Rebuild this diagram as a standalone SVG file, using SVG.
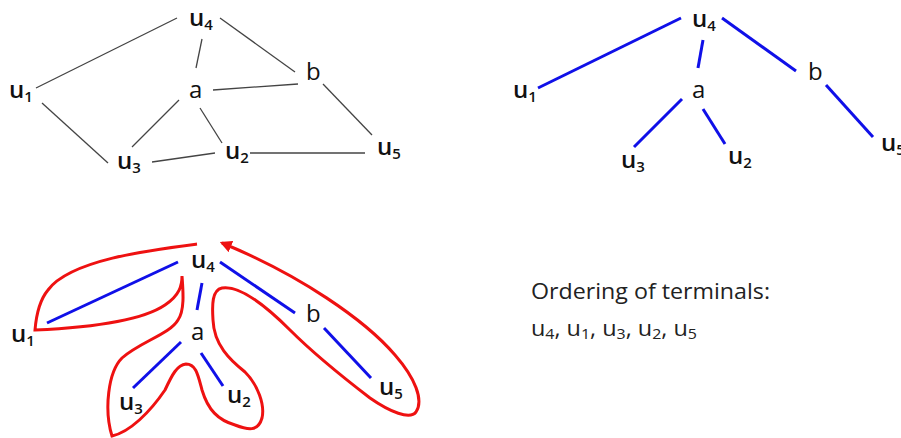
<svg xmlns="http://www.w3.org/2000/svg" width="901" height="438" viewBox="0 0 901 438">
<style>
.lbl{font-family:"Open Sans","Liberation Sans",sans-serif;font-size:24px;fill:#111}
.u{font-weight:600}
.sub{font-size:15px}
.g{stroke:#444;stroke-width:1.3;fill:none}
.bl{stroke:#1010e8;stroke-width:3;fill:none}
.red{stroke:#ee1111;stroke-width:3;fill:none}
.txt{font-family:"Open Sans","Liberation Sans",sans-serif;font-size:22px;fill:#222}
</style>
<defs>
<marker id="ah" viewBox="0 0 10 10" refX="8" refY="5" markerWidth="4" markerHeight="4" orient="auto" markerUnits="strokeWidth">
<path d="M0,0 L10,5 L0,10 z" fill="#ee1111"/>
</marker>
</defs>

<!-- Graph 1: connectors -->
<g id="connectors-graph">
<line class="g" x1="177" y1="18" x2="36" y2="88"/>
<line class="g" x1="202" y1="39" x2="196" y2="68"/>
<line class="g" x1="220" y1="18" x2="295" y2="72"/>
<line class="g" x1="213" y1="90" x2="298" y2="84"/>
<line class="g" x1="323" y1="84" x2="372" y2="135"/>
<line class="g" x1="42" y1="103" x2="108" y2="163"/>
<line class="g" x1="179" y1="100" x2="132" y2="147"/>
<line class="g" x1="200" y1="108" x2="222" y2="143"/>
<line class="g" x1="152" y1="162" x2="215" y2="153"/>
<line class="g" x1="250" y1="153" x2="365" y2="153"/>
</g>
<g id="g1-u4"><text class="lbl u" x="189" y="26">u<tspan class="sub" dy="4">4</tspan></text></g>
<g id="g1-u1"><text class="lbl u" x="9" y="98">u<tspan class="sub" dy="4">1</tspan></text></g>
<g id="g1-a"><text class="lbl" x="189" y="98">a</text></g>
<g id="g1-b"><text class="lbl" x="306" y="80">b</text></g>
<g id="g1-u3"><text class="lbl u" x="117" y="169">u<tspan class="sub" dy="4">3</tspan></text></g>
<g id="g1-u2"><text class="lbl u" x="225" y="159">u<tspan class="sub" dy="4">2</tspan></text></g>
<g id="g1-u5"><text class="lbl u" x="377" y="155">u<tspan class="sub" dy="4">5</tspan></text></g>

<!-- Graph 2: tree -->
<g id="connectors-tree">
<line class="bl" x1="681" y1="18" x2="538" y2="88"/>
<line class="bl" x1="703" y1="40" x2="698" y2="68"/>
<line class="bl" x1="722" y1="18" x2="796" y2="71"/>
<line class="bl" x1="682" y1="99" x2="634" y2="147"/>
<line class="bl" x1="703" y1="109" x2="725" y2="144"/>
<line class="bl" x1="826" y1="85" x2="873" y2="137"/>
</g>
<g id="t-u4"><text class="lbl u" x="692" y="27">u<tspan class="sub" dy="4">4</tspan></text></g>
<g id="t-u1"><text class="lbl u" x="513" y="98">u<tspan class="sub" dy="4">1</tspan></text></g>
<g id="t-a"><text class="lbl" x="692" y="98">a</text></g>
<g id="t-b"><text class="lbl" x="808" y="80">b</text></g>
<g id="t-u3"><text class="lbl u" x="621" y="168">u<tspan class="sub" dy="4">3</tspan></text></g>
<g id="t-u2"><text class="lbl u" x="728" y="164">u<tspan class="sub" dy="4">2</tspan></text></g>
<g id="t-u5"><text class="lbl u" x="881" y="151">u<tspan class="sub" dy="4">5</tspan></text></g>

<!-- Graph 3: tree with tour -->
<g id="connectors-tour">
<line class="bl" x1="178" y1="262" x2="47" y2="323"/>
<line class="bl" x1="202" y1="283" x2="197" y2="310"/>
<line class="bl" x1="220" y1="262" x2="295" y2="313"/>
<line class="bl" x1="324" y1="328" x2="371" y2="378"/>
<line class="bl" x1="181" y1="342" x2="133" y2="388"/>
<line class="bl" x1="201" y1="353" x2="223" y2="386"/>
<path class="red" marker-end="url(#ah)" d="M197,244 C150,250 70,260 48,290 C38,302 36,318 35,330 C80,328 140,322 165,305 C180,295 182,285 182,276 C183,290 185,310 178,320 C170,334 140,342 122,358 C108,372 104,410 112,436 C130,432 150,412 165,390 C172,375 177,365 186,364 C196,364 198,375 202,390 C208,410 218,420 235,425 C248,430 258,432 262,418 C265,405 258,385 245,372 C230,360 214,345 213,320 C212,305 212,290 222,288 C240,285 265,305 290,330 C315,355 340,375 370,398 C390,412 410,420 416,412 C424,400 415,378 395,355 C365,320 300,275 222,243"/>
</g>
<g id="r-u4"><text class="lbl u" x="191" y="268">u<tspan class="sub" dy="4">4</tspan></text></g>
<g id="r-u1"><text class="lbl u" x="11" y="342">u<tspan class="sub" dy="4">1</tspan></text></g>
<g id="r-a"><text class="lbl" x="191" y="340">a</text></g>
<g id="r-b"><text class="lbl" x="306" y="322">b</text></g>
<g id="r-u3"><text class="lbl u" x="119" y="410">u<tspan class="sub" dy="4">3</tspan></text></g>
<g id="r-u2"><text class="lbl u" x="227" y="403">u<tspan class="sub" dy="4">2</tspan></text></g>
<g id="r-u5"><text class="lbl u" x="379" y="395">u<tspan class="sub" dy="4">5</tspan></text></g>

<g id="ordering">
<text class="txt" x="531" y="299" textLength="239" lengthAdjust="spacingAndGlyphs">Ordering of terminals:</text>
<text class="txt" x="531" y="336" textLength="166" lengthAdjust="spacingAndGlyphs">u<tspan class="sub" dy="3">4</tspan><tspan dy="-3">, u</tspan><tspan class="sub" dy="3">1</tspan><tspan dy="-3">, u</tspan><tspan class="sub" dy="3">3</tspan><tspan dy="-3">, u</tspan><tspan class="sub" dy="3">2</tspan><tspan dy="-3">, u</tspan><tspan class="sub" dy="3">5</tspan></text>
</g>
</svg>
